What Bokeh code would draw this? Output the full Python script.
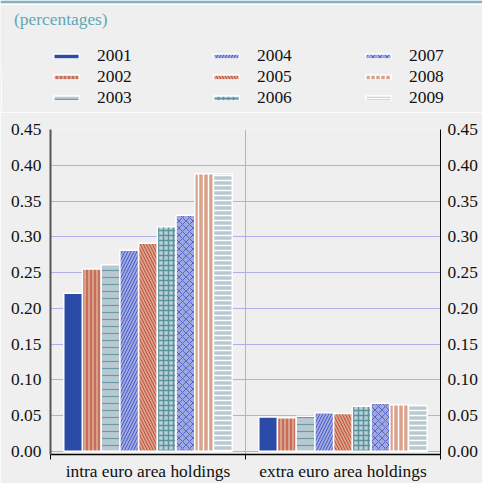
from bokeh.plotting import figure
from bokeh.layouts import column
from bokeh.models import (Range1d, FixedTicker, LinearAxis, Legend, LegendItem,
                          Label, PrintfTickFormatter, BoxAnnotation)
from bokeh.embed import file_html
from bokeh.resources import INLINE

categories = ["intra euro area holdings", "extra euro area holdings"]
years = ["2001", "2002", "2003", "2004", "2005", "2006", "2007", "2008", "2009"]
intra = [0.221, 0.255, 0.261, 0.281, 0.291, 0.314, 0.330, 0.388, 0.388]
extra = [0.048, 0.047, 0.049, 0.054, 0.053, 0.063, 0.067, 0.065, 0.064]
y_ticks = [0.00, 0.05, 0.10, 0.15, 0.20, 0.25, 0.30, 0.35, 0.40, 0.45]

fill_colors = ["#2A4BA8", "#D9A08A", "#B9C9D1", "#A0A8E0", "#D9A08A",
               "#BCD1D7", "#A0A8E0", "#D9A08A", "#B9C9D1"]
hatch_patterns = [None, "vertical_line", "horizontal_line", "right_diagonal_line",
                  "left_diagonal_line", "cross", "diagonal_cross", "vertical_line",
                  "horizontal_line"]
hatch_colors = ["#2A4BA8", "#B83A2E", "#6A9AA6", "#4A5CC8", "#C0503C",
                "#5A929E", "#5566CC", "#FFFFFF", "#FFFFFF"]
hatch_scales = [12, 4, 7, 6, 6, 5, 7, 5, 5]
hatch_weights = [1, 1, 1.2, 1, 1, 1.5, 1, 1.5, 1.5]

FONT = "Liberation Serif"
FS = "17.4px"
BG = "#EFEFEF"
GRID = "#B0B0E8"
TEAL = "#84B4C0"
W = 482
HEAD_H = 112
MAIN_H = 483 - HEAD_H
slot = 0.096


def style_kw(j):
    kw = dict(fill_color=fill_colors[j], line_color="white", line_width=1.5)
    if hatch_patterns[j]:
        kw.update(hatch_pattern=hatch_patterns[j], hatch_color=hatch_colors[j],
                  hatch_scale=hatch_scales[j], hatch_weight=hatch_weights[j])
    return kw


def bar_x(j):
    return [i + 0.5 + (j - 4) * slot for i in range(len(categories))]


def bar_tops(j):
    return [intra[j], extra[j]]


# ---------------- header: rule, title + legend ----------------
h = figure(width=W, height=HEAD_H, output_backend="svg", toolbar_location=None,
           x_range=Range1d(10, 11), y_range=Range1d(0, 1),
           x_axis_type=None, y_axis_type=None,
           min_border_top=0, min_border_left=0, min_border_right=0,
           min_border_bottom=0)
h.frame_align = False
h.background_fill_color = BG
h.border_fill_color = BG
h.outline_line_color = None
h.xgrid.visible = False
h.ygrid.visible = False

h.add_layout(BoxAnnotation(top=HEAD_H, bottom=HEAD_H - 3, top_units="screen",
                           bottom_units="screen", fill_color=TEAL, fill_alpha=1,
                           line_color=None))
h.add_layout(BoxAnnotation(top=HEAD_H - 3, bottom=HEAD_H - 4.5, top_units="screen",
                           bottom_units="screen", fill_color="white", fill_alpha=1,
                           line_color=None))

# legend-only renderers (same data, outside the header's visible range)
proxies = [h.vbar(x=bar_x(j), top=bar_tops(j), bottom=0, width=slot, **style_kw(j))
           for j in range(len(years))]

legend_top = 45
row_h = 21
leg_h = 3 * row_h
col_x = [50, 210, 362]
for c in range(3):
    items = [LegendItem(label=years[c * 3 + k], renderers=[proxies[c * 3 + k]])
             for k in range(3)]
    lg = Legend(items=items, location=(col_x[c], HEAD_H - legend_top - leg_h),
                glyph_width=32, glyph_height=6, label_standoff=15,
                label_text_font=FONT, label_text_font_size=FS,
                label_text_color="#111111", label_height=row_h, spacing=0,
                padding=0, margin=0, border_line_color=None,
                background_fill_alpha=0)
    h.add_layout(lg, "center")

title = Label(x=13.5, y=HEAD_H - 18, x_units="screen", y_units="screen",
              text="(percentages)", text_font=FONT, text_font_size=FS,
              text_color="#5FA8B5", text_baseline="middle")
h.add_layout(title)

# ---------------- main chart ----------------
p = figure(width=W, height=MAIN_H, output_backend="svg", toolbar_location=None,
           x_range=Range1d(0, 2), y_range=Range1d(-0.0045, 0.45),
           min_border_top=129 - HEAD_H, min_border_left=50, min_border_right=42,
           min_border_bottom=0)
p.frame_align = False
p.background_fill_color = BG
p.border_fill_color = BG
p.outline_line_color = None

for j, yr in enumerate(years):
    p.vbar(x=bar_x(j), top=bar_tops(j), bottom=0, width=slot, **style_kw(j))

p.ygrid.ticker = FixedTicker(ticks=y_ticks)
p.ygrid.grid_line_color = GRID
p.ygrid.grid_line_width = 1
p.xgrid.ticker = FixedTicker(ticks=[1])
p.xgrid.grid_line_color = GRID
p.xgrid.grid_line_width = 1

xa = p.xaxis[0]
xa.ticker = FixedTicker(ticks=[0.5, 1.5], minor_ticks=[0, 1, 2])
xa.major_label_overrides = {0.5: categories[0], 1.5: categories[1]}
xa.major_tick_out = 0
xa.major_tick_in = 0
xa.minor_tick_out = 5
xa.minor_tick_in = 0
xa.minor_tick_line_color = "black"
xa.axis_line_color = "black"
xa.axis_line_width = 1.5
xa.major_label_standoff = 1
xa.major_label_text_font = FONT
xa.major_label_text_font_size = FS
xa.major_label_text_line_height = 1.0
xa.major_label_text_color = "#111111"

ya = p.yaxis[0]
ya.ticker = FixedTicker(ticks=y_ticks)
ya.formatter = PrintfTickFormatter(format="%.2f")
ya.major_tick_out = 0
ya.major_tick_in = 0
ya.minor_tick_line_color = None
ya.axis_line_color = "#555555"
ya.axis_line_width = 2
ya.major_label_standoff = 9
ya.major_label_text_font = FONT
ya.major_label_text_font_size = FS
ya.major_label_text_color = "#111111"

ra = LinearAxis(ticker=FixedTicker(ticks=y_ticks),
                formatter=PrintfTickFormatter(format="%.2f"))
ra.major_tick_out = 0
ra.major_tick_in = 0
ra.minor_tick_line_color = None
ra.axis_line_color = "black"
ra.axis_line_width = 1
ra.major_label_standoff = 7
ra.major_label_text_font = FONT
ra.major_label_text_font_size = FS
ra.major_label_text_color = "#111111"
p.add_layout(ra, "right")

layout = column(h, p, spacing=0)
open("out.html", "w").write(file_html(layout, INLINE))
